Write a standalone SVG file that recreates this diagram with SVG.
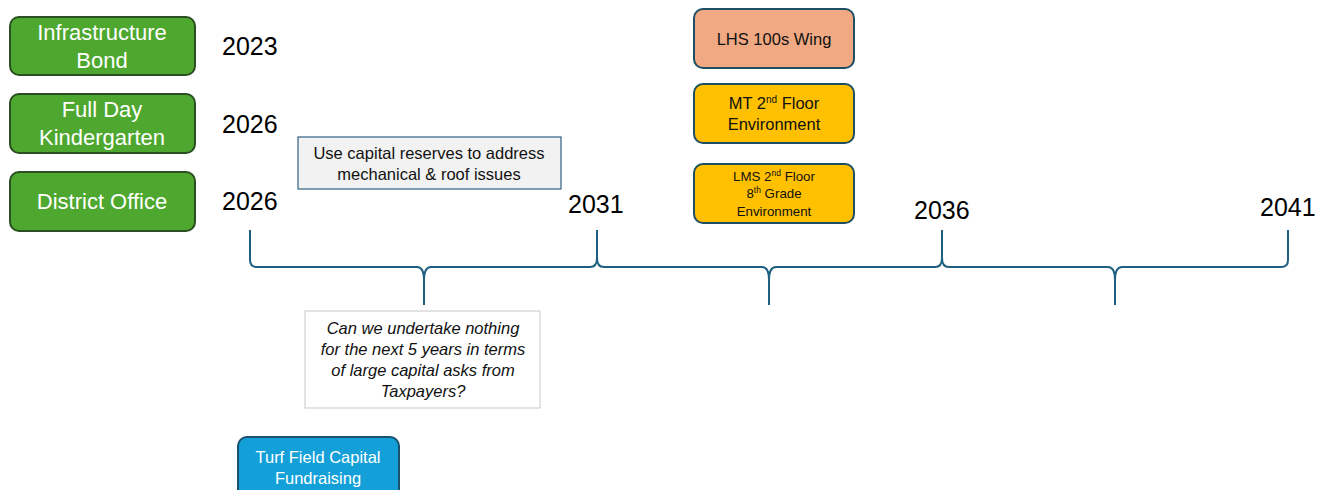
<svg xmlns="http://www.w3.org/2000/svg" width="1324" height="490" viewBox="0 0 1324 490">
<style>
text{font-family:"Liberation Sans",Arial,sans-serif;text-anchor:middle}
.g{fill:#4EA72E;stroke:#2B4F22;stroke-width:2}
.gt{fill:#fff;font-size:22px}
.yr{fill:#000;font-size:25px;text-anchor:start}
.br{fill:none;stroke:#1F5F80;stroke-width:2;stroke-linejoin:round}
.o{fill:#FFC000;stroke:#1E4E63;stroke-width:2}
.t15{font-size:16.5px;fill:#111}
</style>
<rect width="1324" height="490" fill="#fff"/>
<g id="infrastructure-bond"><rect class="g" x="10" y="17" width="185" height="58" rx="9"/><text class="gt" x="102" y="40">Infrastructure</text><text class="gt" x="102" y="68">Bond</text></g>
<g id="full-day-k"><rect class="g" x="10" y="94" width="185" height="59" rx="9"/><text class="gt" x="102" y="117">Full Day</text><text class="gt" x="102" y="145">Kindergarten</text></g>
<g id="district-office"><rect class="g" x="10" y="172" width="185" height="59" rx="9"/><text class="gt" x="102" y="209">District Office</text></g>
<g id="years">
<text class="yr" x="222" y="55">2023</text>
<text class="yr" x="222" y="133">2026</text>
<text class="yr" x="222" y="210">2026</text>
<text class="yr" x="568" y="213">2031</text>
<text class="yr" x="914" y="219">2036</text>
<text class="yr" x="1260" y="216">2041</text>
</g>
<g id="connectors">
<path class="br" d="M250,230 V260 Q250,267 257,267 H417 Q424,267 424,280 V305 M424,280 Q424,267 431,267 H590 Q597,267 597,258 V230"/>
<path class="br" d="M597,230 V258 Q597,267 604,267 H762 Q769,267 769,280 V305 M769,280 Q769,267 776,267 H935 Q942,267 942,258 V230"/>
<path class="br" d="M942,230 V258 Q942,267 949,267 H1108 Q1115,267 1115,280 V305 M1115,280 Q1115,267 1122,267 H1281 Q1288,267 1288,260 V230"/>
</g>
<g id="reserves"><rect x="298" y="137" width="263" height="52" fill="#F2F2F2" stroke="#2F5F80" stroke-width="1.2"/><text class="t15" x="429" y="159">Use capital reserves to address</text><text class="t15" x="429" y="180">mechanical &amp; roof issues</text></g>
<g id="question"><rect x="305" y="311" width="235" height="97" fill="#fff" stroke="#C8C8C8" stroke-width="1"/>
<text class="t15" x="423" y="334" font-style="italic">Can we undertake nothing</text>
<text class="t15" x="423" y="355" font-style="italic">for the next 5 years in terms</text>
<text class="t15" x="423" y="376" font-style="italic">of large capital asks from</text>
<text class="t15" x="423" y="397" font-style="italic">Taxpayers?</text></g>
<g id="turf"><rect x="238" y="437" width="161" height="62" rx="9" fill="#13A0D8" stroke="#1D4F6E" stroke-width="2"/><text x="318" y="463" font-size="16.5" fill="#fff">Turf Field Capital</text><text x="318" y="484" font-size="16.5" fill="#fff">Fundraising</text></g>
<g id="lhs"><rect x="694" y="9" width="160" height="59" rx="9" fill="#F1A983" stroke="#1E4E63" stroke-width="2"/><text class="t15" x="774" y="45">LHS 100s Wing</text></g>
<g id="mt"><rect class="o" x="694" y="84" width="160" height="59" rx="9"/><text class="t15" x="774" y="109">MT 2<tspan font-size="10" dy="-6">nd</tspan><tspan dy="6"> Floor</tspan></text><text class="t15" x="774" y="130">Environment</text></g>
<g id="lms"><rect class="o" x="694" y="164" width="160" height="59" rx="9"/><text x="774" y="181" font-size="13.3" fill="#111">LMS 2<tspan font-size="8.5" dy="-5">nd</tspan><tspan dy="5"> Floor</tspan></text><text x="774" y="198" font-size="13.3" fill="#111">8<tspan font-size="8.5" dy="-5">th</tspan><tspan dy="5"> Grade</tspan></text><text x="774" y="216" font-size="13.3" fill="#111">Environment</text></g>
</svg>
